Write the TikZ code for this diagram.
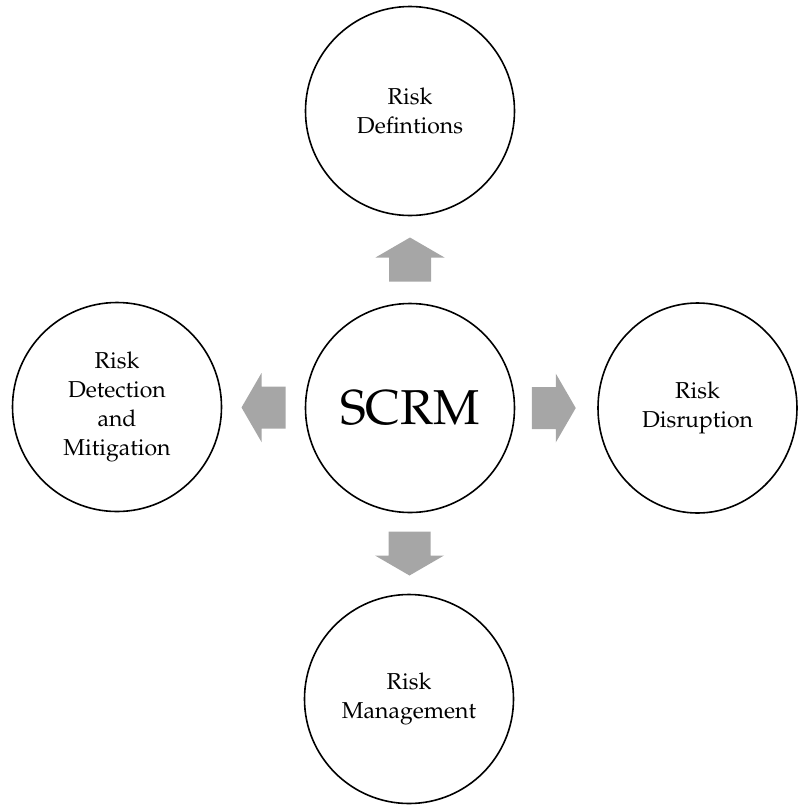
\documentclass[tikz,border=0pt]{standalone}
\usepackage[T1]{fontenc}
\usepackage{mathpazo}
\usetikzlibrary{calc,shapes.geometric}

\definecolor{arrowgray}{RGB}{166,166,166}

\tikzset{
  topic/.style={draw=black, line width=1.6pt, circle, minimum size=209pt,
    inner sep=0pt, align=center, font=\fontsize{23}{29}\selectfont},
  hub/.style={topic, font=\fontsize{49}{55}\selectfont},
  blockarrow/.pic={
    \fill[arrowgray] (-22,-21) -- (2,-21) -- (2,-34.5) -- (22,0)
      -- (2,34.5) -- (2,21) -- (-22,21) -- cycle;
  }
}

\begin{document}
\begin{tikzpicture}[x=1pt, y=1pt]
  \useasboundingbox (0,0) rectangle (799,-807);

  % central concept and its four aspects
  \node[hub]   (scrm) at (410,-408) {SCRM};
  \node[topic] (def)  at (410,-111) {Risk\\Defintions};
  \node[topic] (det)  at (117,-407) {Risk\\Detection\\and\\Mitigation};
  \node[topic, ellipse, minimum width=199pt, minimum height=210pt]
               (dis)  at (697.5,-408) {Risk\\Disruption};
  \node[topic] (man)  at (409,-699) {Risk\\Management};

  % block arrows pointing outward from the hub
  \pic[rotate=90]  at ($(scrm)!0.5!(def)$) {blockarrow};
  \pic[rotate=180] at ($(scrm)!0.5!(det)$) {blockarrow};
  \pic             at ($(scrm)!0.5!(dis)$) {blockarrow};
  \pic[rotate=-90] at ($(scrm)!0.5!(man)$) {blockarrow};
\end{tikzpicture}
\end{document}
